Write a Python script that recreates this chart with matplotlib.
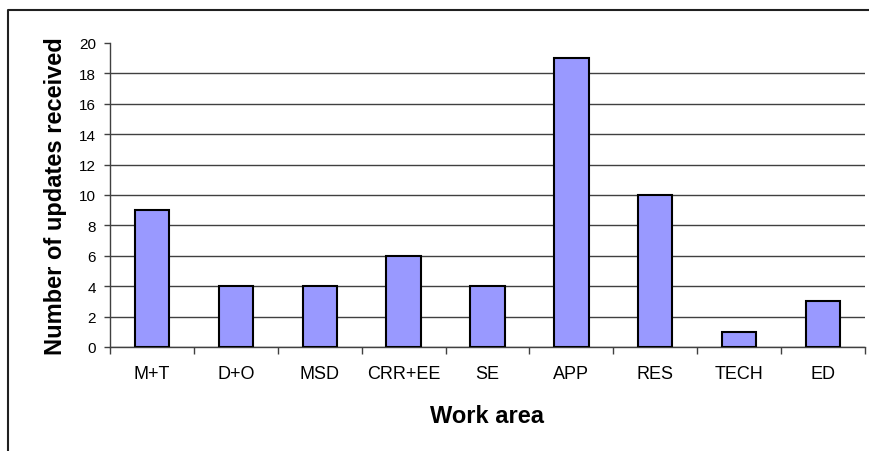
import matplotlib
matplotlib.use("Agg")
import matplotlib.pyplot as plt
import numpy as np
from matplotlib.lines import Line2D

# данные
areas = ["M+T", "D+O", "MSD", "CRR+EE", "SE", "APP", "RES", "TECH", "ED"]
updates = [9, 4, 4, 6, 4, 19, 10, 1, 3]

plt.rcParams['font.family'] = ['Liberation Sans', 'DejaVu Sans']

fig = plt.figure(figsize=(8.7, 4.52), dpi=100)
ax = fig.add_axes([110 / 870, 1 - 348 / 452, 755 / 870, 304 / 452])

x = np.arange(len(areas))
ax.bar(x, updates, width=0.41, color="#9999FF", edgecolor="black", linewidth=1.5, zorder=3)

ax.set_xlim(-0.5, len(areas) - 0.5)
ax.set_ylim(0, 20)
ax.set_yticks(np.arange(0, 21, 2))
ax.tick_params(axis='y', labelsize=11, length=4, width=1, pad=6, color="#404040")

# деления оси X на границах категорий, подписи по центру
ax.set_xticks(np.arange(-0.5, len(areas), 1))
ax.set_xticklabels([])
ax.set_xticks(x, minor=True)
ax.set_xticklabels(areas, minor=True)
ax.tick_params(axis='x', which='major', length=5, width=1, color="#404040")
ax.tick_params(axis='x', which='minor', length=0, labelsize=13, pad=13)

ax.yaxis.grid(True, color="#404040", linewidth=1)
ax.get_ygridlines()[-1].set_visible(False)
ax.set_axisbelow(True)

for s in ["top", "right"]:
    ax.spines[s].set_visible(False)
for s in ["left", "bottom"]:
    ax.spines[s].set_color("#404040")
    ax.spines[s].set_linewidth(1)

ax.set_xlabel("Work area", fontsize=17, fontweight="bold", labelpad=16)
ax.set_ylabel("Number of updates received", fontsize=17, fontweight="bold", labelpad=9)

# рамка вокруг диаграммы (видны только левая и верхняя стороны)
fl = 8.5 / 870
ft = 1 - 10.5 / 452
fig.add_artist(Line2D([fl, fl, 1.1], [-0.1, ft, ft], transform=fig.transFigure,
                      color="#202020", linewidth=1.5))

fig.savefig("out.png", dpi=100)
